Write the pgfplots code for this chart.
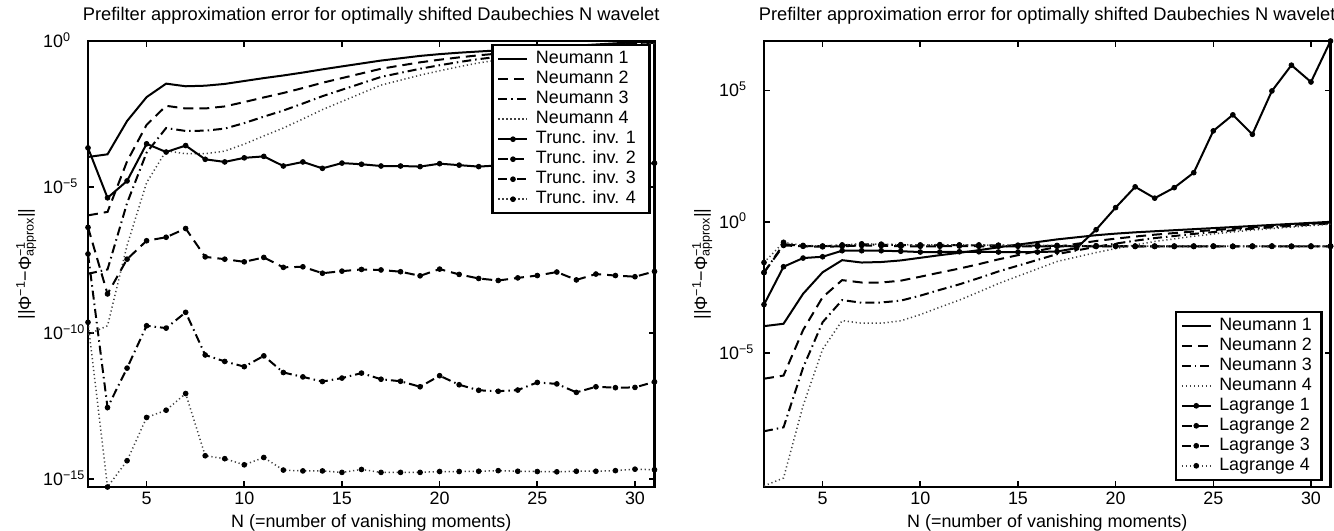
\documentclass[border=0pt]{standalone}
\usepackage{fontspec}
\setmainfont{Liberation Sans}
\usepackage{pgfplots}
\usepackage{pgfplotstable}
\pgfplotsset{compat=1.18}

% Neumann series prefilters (shared by both panels)
\pgfplotstableread{
N n1 n2 n3 n4
2 1.07e-4 1.07e-6 1.07e-8 8.91e-11
3 1.32e-4 1.41e-6 1.51e-8 1.78e-10
4 1.82e-3 7.59e-5 2.82e-6 1.00e-7
5 1.20e-2 1.35e-3 1.51e-4 1.41e-5
6 3.47e-2 6.03e-3 1.05e-3 1.74e-4
7 2.82e-2 4.90e-3 8.32e-4 1.38e-4
8 2.95e-2 4.90e-3 8.51e-4 1.38e-4
9 3.39e-2 5.75e-3 1.00e-3 1.70e-4
10 4.27e-2 8.13e-3 1.55e-3 2.95e-4
11 5.37e-2 1.17e-2 2.57e-3 5.62e-4
12 6.61e-2 1.66e-2 4.17e-3 1.05e-3
13 8.32e-2 2.45e-2 7.24e-3 2.14e-3
14 0.107 3.72e-2 1.29e-2 4.47e-3
15 0.135 5.37e-2 2.14e-2 8.51e-3
16 0.170 7.76e-2 3.55e-2 1.62e-2
17 0.214 0.112 5.89e-2 3.09e-2
18 0.257 0.145 8.13e-2 4.57e-2
19 0.309 0.186 0.112 6.76e-2
20 0.355 0.229 0.148 9.55e-2
21 0.398 0.275 0.191 0.132
22 0.437 0.324 0.240 0.178
23 0.479 0.372 0.288 0.224
24 0.525 0.427 0.347 0.282
25 0.575 0.484 0.407 0.343
26 0.631 0.547 0.474 0.411
27 0.692 0.614 0.545 0.483
28 0.759 0.684 0.617 0.556
29 0.832 0.759 0.692 0.631
30 0.912 0.841 0.776 0.716
31 1.000 0.933 0.871 0.813
}\neumann

% truncated inverse prefilters
\pgfplotstableread{
N t1 t2 t3 t4
2 2.19e-4 4.17e-7 5.13e-8 2.34e-10
3 4.27e-6 2.19e-9 2.82e-13 5.37e-16
4 1.62e-5 3.39e-8 6.31e-12 4.27e-15
5 3.02e-4 1.45e-7 1.78e-10 1.29e-13
6 1.58e-4 1.91e-7 1.48e-10 2.29e-13
7 2.63e-4 3.80e-7 5.13e-10 8.51e-13
8 8.91e-5 4.07e-8 1.78e-11 6.31e-15
9 7.24e-5 3.39e-8 1.07e-11 5.01e-15
10 1.00e-4 2.75e-8 7.08e-12 3.09e-15
11 1.12e-4 3.89e-8 1.66e-11 5.50e-15
12 5.25e-5 1.78e-8 4.47e-12 2.04e-15
13 7.24e-5 1.86e-8 3.16e-12 1.91e-15
14 4.37e-5 1.12e-8 2.19e-12 1.91e-15
15 6.61e-5 1.32e-8 2.88e-12 1.70e-15
16 6.03e-5 1.51e-8 4.27e-12 2.14e-15
17 5.25e-5 1.45e-8 2.63e-12 1.70e-15
18 5.25e-5 1.26e-8 2.24e-12 1.70e-15
19 5.01e-5 9.12e-9 1.45e-12 1.70e-15
20 6.31e-5 1.55e-8 3.47e-12 1.82e-15
21 5.62e-5 1.02e-8 1.70e-12 1.82e-15
22 5.01e-5 7.41e-9 1.10e-12 1.86e-15
23 5.50e-5 6.31e-9 1.02e-12 1.95e-15
24 5.25e-5 7.76e-9 1.12e-12 1.86e-15
25 5.75e-5 9.33e-9 2.04e-12 1.82e-15
26 5.37e-5 1.23e-8 1.82e-12 1.78e-15
27 5.01e-5 6.61e-9 9.33e-13 1.86e-15
28 5.62e-5 1.05e-8 1.45e-12 1.86e-15
29 5.37e-5 9.33e-9 1.35e-12 1.95e-15
30 5.75e-5 8.51e-9 1.38e-12 2.19e-15
31 6.61e-5 1.29e-8 2.14e-12 2.09e-15
}\trunc

% Lagrange interpolation prefilters
\pgfplotstableread{
N l1 l2 l3 l4
2 7.08e-4 1.17e-2 1.17e-2 2.82e-2
3 1.95e-2 0.126 0.141 0.166
4 4.17e-2 0.117 0.120 0.126
5 4.68e-2 0.112 0.117 0.120
6 7.94e-2 0.117 0.126 0.132
7 7.94e-2 0.126 0.138 0.145
8 7.94e-2 0.123 0.135 0.141
9 7.59e-2 0.117 0.129 0.135
10 7.08e-2 0.117 0.126 0.132
11 7.08e-2 0.117 0.129 0.135
12 7.24e-2 0.120 0.129 0.132
13 7.24e-2 0.117 0.126 0.132
14 7.08e-2 0.117 0.126 0.129
15 7.08e-2 0.117 0.123 0.129
16 7.08e-2 0.117 0.123 0.126
17 7.41e-2 0.117 0.120 0.126
18 0.100 0.117 0.120 0.123
19 0.501 0.115 0.120 0.123
20 3.47 0.117 0.120 0.123
21 21.4 0.115 0.117 0.120
22 7.94 0.115 0.117 0.120
23 19.95 0.115 0.117 0.120
24 74.1 0.115 0.117 0.120
25 2884 0.117 0.117 0.120
26 11750 0.115 0.117 0.117
27 2138 0.115 0.117 0.120
28 95500 0.117 0.117 0.120
29 912000 0.115 0.117 0.117
30 209000 0.115 0.117 0.120
31 7.59e6 0.117 0.117 0.120
}\lagrange

% short legend sample with one centred mark
\pgfplotsset{
  legend image code/.code={%
    \draw[mark repeat=2, mark phase=2, #1] plot coordinates {(0bp,0bp) (14.5bp,0bp) (29bp,0bp)};},
  lA/.style={black, line width=2bp, solid},
  lB/.style={black, line width=2bp, dash pattern=on 10bp off 6bp},
  lC/.style={black, line width=2bp, dash pattern=on 9bp off 4bp on 1.5bp off 4bp},
  lD/.style={black!75, line width=1.5bp, dash pattern=on 1.2bp off 2.8bp},
  mk/.style={mark=*, mark size=2.4bp, mark options={solid, fill=black, draw=black, line width=0.8bp}},
}

\begin{document}
\fontsize{17.9bp}{21bp}\selectfont
\begin{tikzpicture}[font=\fontsize{17.9bp}{21bp}\selectfont]
\path[use as bounding box] (0,0) rectangle (1334bp,531bp);

% left panel: Neumann vs truncated inverse
\begin{axis}[
  at={(88bp,44bp)}, anchor=south west,
  scale only axis, width=566.5bp, height=446bp,
  ymode=log, xmin=2, xmax=31,
  ymin=5.37e-16, ymax=1,
  xtick={5,10,15,20,25,30},
  ytick={1e-15,1e-10,1e-5,1},
  yticklabels={10\textsuperscript{−15},10\textsuperscript{−10},10\textsuperscript{−5},10\textsuperscript{0}},
  tick align=inside, major tick length=6bp,
  minor tick num=0, yminorticks=false,
  axis line style={line width=2.4bp},
  every tick/.append style={line width=1.6bp, black},
  /pgf/number format/assume math mode=true,
  xticklabel style={inner sep=0pt, anchor=north, yshift=-5bp},
  yticklabel style={inner sep=0pt, anchor=base west, xshift=-45bp, yshift=-6.4bp},
  title={Prefilter approximation error for optimally shifted Daubechies N wavelet},
  title style={at={(0.5,1)}, anchor=base, yshift=15bp, inner sep=0pt, font=\fontsize{18.3bp}{21bp}\selectfont},
  xlabel={N (=number of vanishing moments)},
  xlabel style={at={(0.5,0)}, anchor=base, yshift=-40bp, inner sep=0pt},
  ylabel={||Φ\textsuperscript{−1}−Φ\rlap{\textsuperscript{−1}}\textsubscript{approx}||},
  ylabel style={at={(0,0.5)}, anchor=base, yshift=57bp, inner sep=0pt},
  legend cell align=left,
  legend style={draw=black, line width=2.4bp, fill=white, inner xsep=5bp, inner ysep=4bp,
    nodes={text height=12.8bp, text depth=3.8bp, inner ysep=1.7bp, inner xsep=4.5bp},
    /tikz/every odd column/.append style={column sep=3bp},
    at={(1,1)}, anchor=north east, xshift=-4bp, yshift=-3bp},
]
\addplot[lA] table[x=N, y=n1] {\neumann};
\addplot[lB] table[x=N, y=n2] {\neumann};
\addplot[lC] table[x=N, y=n3] {\neumann};
\addplot[lD] table[x=N, y=n4] {\neumann};
\addplot[lA, mk] table[x=N, y=t1] {\trunc};
\addplot[lB, mk] table[x=N, y=t2] {\trunc};
\addplot[lC, mk] table[x=N, y=t3] {\trunc};
\addplot[lD, mk] table[x=N, y=t4] {\trunc};
\legend{Neumann 1, Neumann 2, Neumann 3, Neumann 4,
  Trunc. inv. 1\hspace*{4bp}, Trunc. inv. 2, Trunc. inv. 3, Trunc. inv. 4}
\end{axis}

% right panel: Neumann vs Lagrange
\begin{axis}[
  at={(764bp,44bp)}, anchor=south west,
  scale only axis, width=566.5bp, height=446bp,
  ymode=log, xmin=2, xmax=31,
  ymin=8.1e-11, ymax=7.59e6,
  xtick={5,10,15,20,25,30},
  ytick={1e-5,1,1e5},
  yticklabels={10\textsuperscript{−5},10\textsuperscript{0},10\textsuperscript{5}},
  tick align=inside, major tick length=6bp,
  minor tick num=0, yminorticks=false,
  axis line style={line width=2.4bp},
  every tick/.append style={line width=1.6bp, black},
  /pgf/number format/assume math mode=true,
  xticklabel style={inner sep=0pt, anchor=north, yshift=-5bp},
  yticklabel style={inner sep=0pt, anchor=base west, xshift=-45bp, yshift=-6.4bp},
  title={Prefilter approximation error for optimally shifted Daubechies N wavelet},
  title style={at={(0.5,1)}, anchor=base, yshift=15bp, inner sep=0pt, font=\fontsize{18.3bp}{21bp}\selectfont},
  xlabel={N (=number of vanishing moments)},
  xlabel style={at={(0.5,0)}, anchor=base, yshift=-40bp, inner sep=0pt},
  ylabel={||Φ\textsuperscript{−1}−Φ\rlap{\textsuperscript{−1}}\textsubscript{approx}||},
  ylabel style={at={(0,0.5)}, anchor=base, yshift=57bp, inner sep=0pt},
  legend cell align=left,
  legend style={draw=black, line width=2.4bp, fill=white, inner xsep=5bp, inner ysep=4bp,
    nodes={text height=12.8bp, text depth=3.8bp, inner ysep=1.7bp, inner xsep=4.5bp},
    /tikz/every odd column/.append style={column sep=3bp},
    at={(1,0)}, anchor=south east, xshift=-8bp, yshift=6bp},
]
\addplot[lA] table[x=N, y=n1] {\neumann};
\addplot[lB] table[x=N, y=n2] {\neumann};
\addplot[lC] table[x=N, y=n3] {\neumann};
\addplot[lD] table[x=N, y=n4] {\neumann};
\addplot[lA, mk] table[x=N, y=l1] {\lagrange};
\addplot[lB, mk] table[x=N, y=l2] {\lagrange};
\addplot[lC, mk] table[x=N, y=l3] {\lagrange};
\addplot[lD, mk] table[x=N, y=l4] {\lagrange};
\legend{Neumann 1, Neumann 2, Neumann 3, Neumann 4,
  Lagrange 1, Lagrange 2, Lagrange 3, Lagrange 4}
\end{axis}
\end{tikzpicture}
\end{document}
